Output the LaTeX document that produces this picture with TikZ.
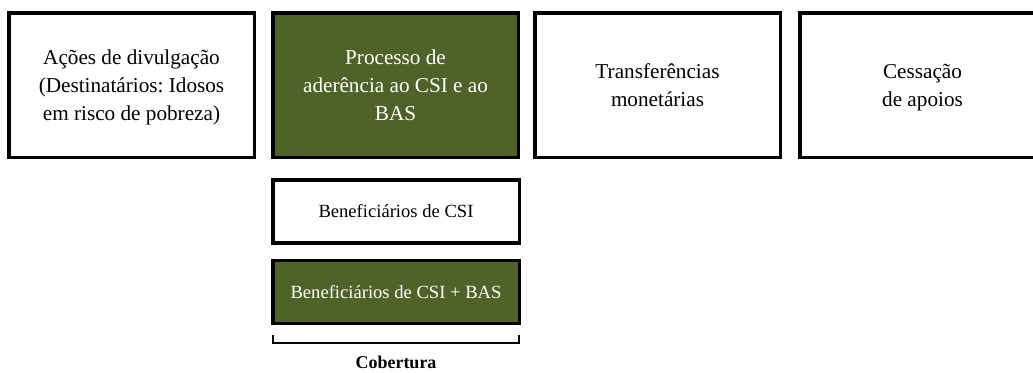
\documentclass[tikz,border=0pt]{standalone}
\usepackage{fontspec}
\setmainfont{Liberation Serif}
\frenchspacing

\definecolor{boxgreen}{RGB}{79,98,40}

\tikzset{
  stagebox/.style={draw=black,line width=3.5pt,minimum width=245.5pt,minimum height=144.5pt,
    inner sep=0pt,align=center,text depth=0pt,font=\fontsize{21.2}{28}\selectfont},
  groupbox/.style={draw=black,line width=3.5pt,minimum width=246.5pt,minimum height=63pt,
    inner sep=0pt,align=center,font=\fontsize{18.6}{22}\selectfont},
  greenfill/.style={fill=boxgreen,text=white}
}

\begin{document}
\begin{tikzpicture}[x=1pt,y=-1pt]
  \path[clip] (0,0) rectangle (1033,372);
  \fill[white] (0,0) rectangle (1033,372);

  % top row
  \node[stagebox] (outreach) at (131.5,85) {Ações de divulgação\\(Destinatários: Idosos\\em risco de pobreza)};
  \node[stagebox,greenfill] (adhesion) at (395.5,85) {Processo de\\aderência ao CSI e ao\\BAS};
  \node[stagebox] (transfers) at (657.5,85) {Transferências\\monetárias};
  \node[stagebox] (cessation) at (922.5,85) {Cessação\\de apoios};

  % beneficiaries
  \node[groupbox] (csi) at (396,211.5) {Beneficiários de CSI};
  \node[groupbox,greenfill] (csibas) at (396,292) {Beneficiários de CSI + BAS};

  \coordinate (brL) at (273,335);
  \coordinate (brR) at (519,335);
  \draw[line width=2pt] (brL) -- ++(0,8) -| (brR);
  \node[font=\bfseries\fontsize{18}{20}\selectfont] (coverage) at (396,362) {Cobertura};
\end{tikzpicture}
\end{document}
